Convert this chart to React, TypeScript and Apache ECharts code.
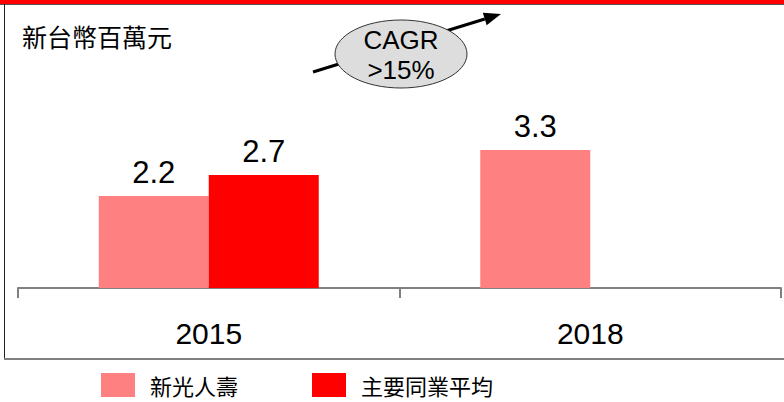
import React, { useEffect, useRef } from "react";
import * as echarts from "echarts";

const categories = ["2015", "2018"];
const seriesNames = ["新光人壽", "主要同業平均"];
const shinKongValues = [2.2, 3.3];
const peerAvgValues: (number | null)[] = [2.7, null];
const unitTitle = "新台幣百萬元";
const cagrLines = ["CAGR", ">15%"];

const LATIN = "'Liberation Sans', Arial, sans-serif";
const CJK = "'Noto Sans CJK TC', 'Noto Sans CJK SC', sans-serif";

export default function App() {
  const ref = useRef<HTMLDivElement>(null);
  useEffect(() => {
    document.body.style.margin = "0";
    if (!ref.current) return;
    const chart = echarts.init(ref.current, undefined, { renderer: "svg" });
    const tip = [501, 14];
    const start = [313, 72];
    const dx = tip[0] - start[0];
    const dy = tip[1] - start[1];
    const len = Math.sqrt(dx * dx + dy * dy);
    const ux = dx / len;
    const uy = dy / len;
    const hl = 17;
    const hw = 6.5;
    const bx = tip[0] - ux * hl;
    const by = tip[1] - uy * hl;
    chart.setOption({
      animation: false,
      backgroundColor: "#ffffff",
      grid: { left: 18, right: 3, top: 37, bottom: 114 },
      legend: {
        data: seriesNames,
        left: 101,
        top: 373,
        padding: 0,
        itemWidth: 34,
        itemHeight: 24,
        itemGap: 74,
        icon: "rect",
        textStyle: {
          fontFamily: CJK,
          fontSize: 22,
          lineHeight: 24,
          color: "#000",
          padding: [0, 0, 0, 10],
        },
      },
      xAxis: {
        type: "category",
        data: categories,
        axisLine: { lineStyle: { color: "#808080", width: 2 } },
        axisTick: { show: true, length: 10, lineStyle: { color: "#808080", width: 2 } },
        axisLabel: {
          fontFamily: LATIN,
          fontSize: 30,
          color: "#000",
          margin: 30,
        },
      },
      yAxis: {
        type: "value",
        min: 0,
        max: 6,
        show: false,
        splitLine: { show: false },
      },
      series: [
        {
          name: seriesNames[0],
          type: "bar",
          data: shinKongValues,
          barWidth: 110,
          barGap: "0%",
          itemStyle: { color: "#FF8080" },
          label: {
            show: true,
            position: "top",
            distance: 8,
            fontFamily: LATIN,
            fontSize: 31,
            color: "#000",
          },
        },
        {
          name: seriesNames[1],
          type: "bar",
          data: peerAvgValues,
          barWidth: 110,
          barGap: "0%",
          itemStyle: { color: "#FF0000" },
          label: {
            show: true,
            position: "top",
            distance: 8,
            fontFamily: LATIN,
            fontSize: 31,
            color: "#000",
          },
        },
      ],
      graphic: [
        {
          type: "rect",
          shape: { x: 0, y: 0, width: 784, height: 4 },
          style: { fill: "#FF0000" },
          z: 10,
        },
        {
          type: "line",
          shape: { x1: 0, y1: 4.5, x2: 784, y2: 4.5 },
          style: { stroke: "#555555", lineWidth: 1 },
          z: 10,
        },
        {
          type: "line",
          shape: { x1: 4.5, y1: 4, x2: 4.5, y2: 359 },
          style: { stroke: "#222222", lineWidth: 1 },
          z: 10,
        },
        {
          type: "line",
          shape: { x1: 4, y1: 359, x2: 784, y2: 359 },
          style: { stroke: "#808080", lineWidth: 2 },
          z: 10,
        },
        {
          type: "text",
          left: 22,
          top: 23,
          style: {
            text: unitTitle,
            fontFamily: CJK,
            fontSize: 25,
            fill: "#000",
          },
          z: 10,
        },
        {
          type: "line",
          shape: { x1: start[0], y1: start[1], x2: bx, y2: by },
          style: { stroke: "#000", lineWidth: 3 },
          z: 10,
        },
        {
          type: "polygon",
          shape: {
            points: [
              tip,
              [bx - uy * hw, by + ux * hw],
              [bx + uy * hw, by - ux * hw],
            ],
          },
          style: { fill: "#000" },
          z: 10,
        },
        {
          type: "ellipse",
          shape: { cx: 401, cy: 54, rx: 66, ry: 34 },
          style: { fill: "#DDDDDD", stroke: "#333333", lineWidth: 1 },
          z: 11,
        },
        {
          type: "text",
          x: 401,
          y: 40,
          style: {
            text: cagrLines[0],
            fontFamily: LATIN,
            fontSize: 26,
            fill: "#000",
            align: "center",
            verticalAlign: "middle",
          },
          z: 12,
        },
        {
          type: "text",
          x: 401,
          y: 70,
          style: {
            text: cagrLines[1],
            fontFamily: LATIN,
            fontSize: 26,
            fill: "#000",
            align: "center",
            verticalAlign: "middle",
          },
          z: 12,
        },
      ],
    });
    return () => chart.dispose();
  }, []);
  return <div ref={ref} style={{ width: 784, height: 402 }} />;
}
